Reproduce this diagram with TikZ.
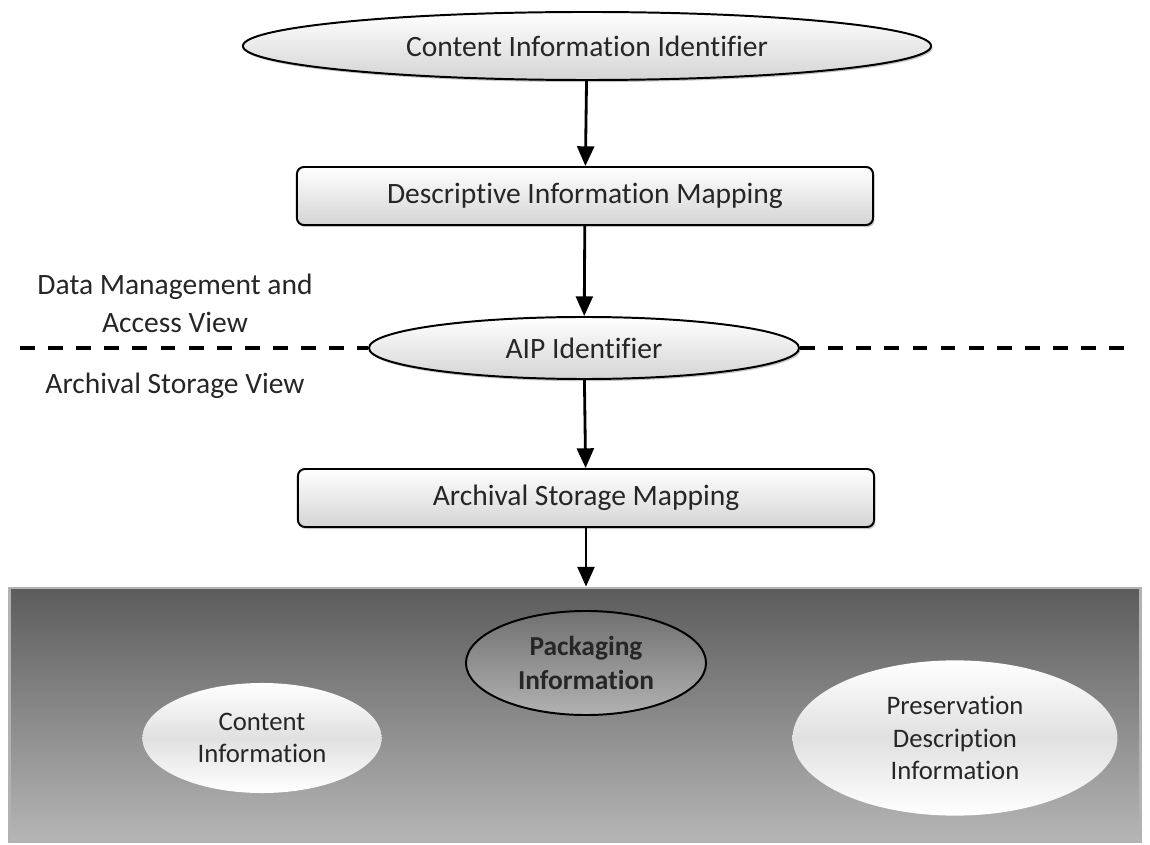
\documentclass[tikz,border=0pt]{standalone}
\usepackage{fontspec}
\setmainfont{Carlito}[Ligatures=NoCommon]
\usepackage{tikz}
\usetikzlibrary{arrows.meta}
\usetikzlibrary{shapes.geometric}
\usetikzlibrary{shadows}
\usetikzlibrary{positioning}
\definecolor{boxbot}{RGB}{212,212,212}
\definecolor{bandtop}{RGB}{92,92,92}
\definecolor{bandbot}{RGB}{182,182,182}
\definecolor{pktop}{RGB}{112,112,112}
\definecolor{pkbot}{RGB}{178,178,178}
\definecolor{txt}{RGB}{38,38,38}
\begin{document}
\begin{tikzpicture}[x=0.025cm, y=-0.025cm, font=\fontsize{21}{27}\selectfont, text=txt]
	\tikzstyle{shade}=[top color=white, bottom color=boxbot, draw=black, line width=1.4pt,
	                        drop shadow={shadow xshift=1pt, shadow yshift=-1.5pt, fill=black!45}];
	\tikzstyle{oval}=[ellipse, shade, inner sep=0pt];
	\tikzstyle{mapbox}=[rectangle, rounded corners=5pt, shade, inner sep=0pt,
	                        minimum width=14.4cm, minimum height=1.45cm];
	\tikzstyle{bubble}=[ellipse, inner sep=0pt, align=center, top color=white, bottom color=white,
	                        middle color=black!12, font=\fontsize{19}{23}\selectfont];
	\tikzstyle{arr}=[line width=2pt, -{Triangle[length=14pt, width=12pt]}];
	\tikzstyle{sep}=[line width=2.6pt, dash pattern=on 10.5pt off 9.5pt];
	\useasboundingbox (0,0) rectangle (1150,845);
	% flow down the middle
	\node[oval, minimum width=17.2cm, minimum height=1.7cm] (cii) at (587,46) {Content Information Identifier};
	\node[mapbox] (dim) at (585,196) {Descriptive Information Mapping};
	\node[oval, minimum width=10.75cm, minimum height=1.55cm] (aip) at (584,348) {AIP Identifier};
	\node[mapbox] (asm) at (586,498) {Archival Storage Mapping};
	% the package
	\node[rectangle, top color=bandtop, bottom color=bandbot, draw=black!30, line width=2pt,
	      minimum width=28.25cm, minimum height=6.35cm] (pkg) at (575,715) {};
	\node[bubble, minimum width=5.98cm, minimum height=2.75cm] (ci) at (262,738) {Content\\Information};
	\node[bubble, minimum width=8.12cm, minimum height=3.88cm] (pdi) at (955,738) {Preservation\\Description\\Information};
	\node[ellipse, inner sep=0pt, align=center, top color=pktop, bottom color=pkbot, draw=black, line width=1.4pt,
	      minimum width=6cm, minimum height=2.6cm, font=\fontsize{19.5}{24}\selectfont\bfseries] (pi) at (586,663) {Packaging\\Information};
	\foreach \a/\b in {cii/dim, dim/aip, aip/asm}
	{\draw[arr] (\a) -- (\b);}
	\draw[arr] (asm) -- (asm |- pkg.north);
	% views
	\coordinate (sl) at (20,348);
	\coordinate (sr) at (1125,348);
	\draw[sep] (sl) -- (aip.west);
	\draw[sep] (aip.east) -- (sr);
	\node[align=center] (dmav) at (175,303) {Data Management and\\Access View};
	\node (asv) at (175,386) {Archival Storage View};
\end{tikzpicture}
\end{document}
